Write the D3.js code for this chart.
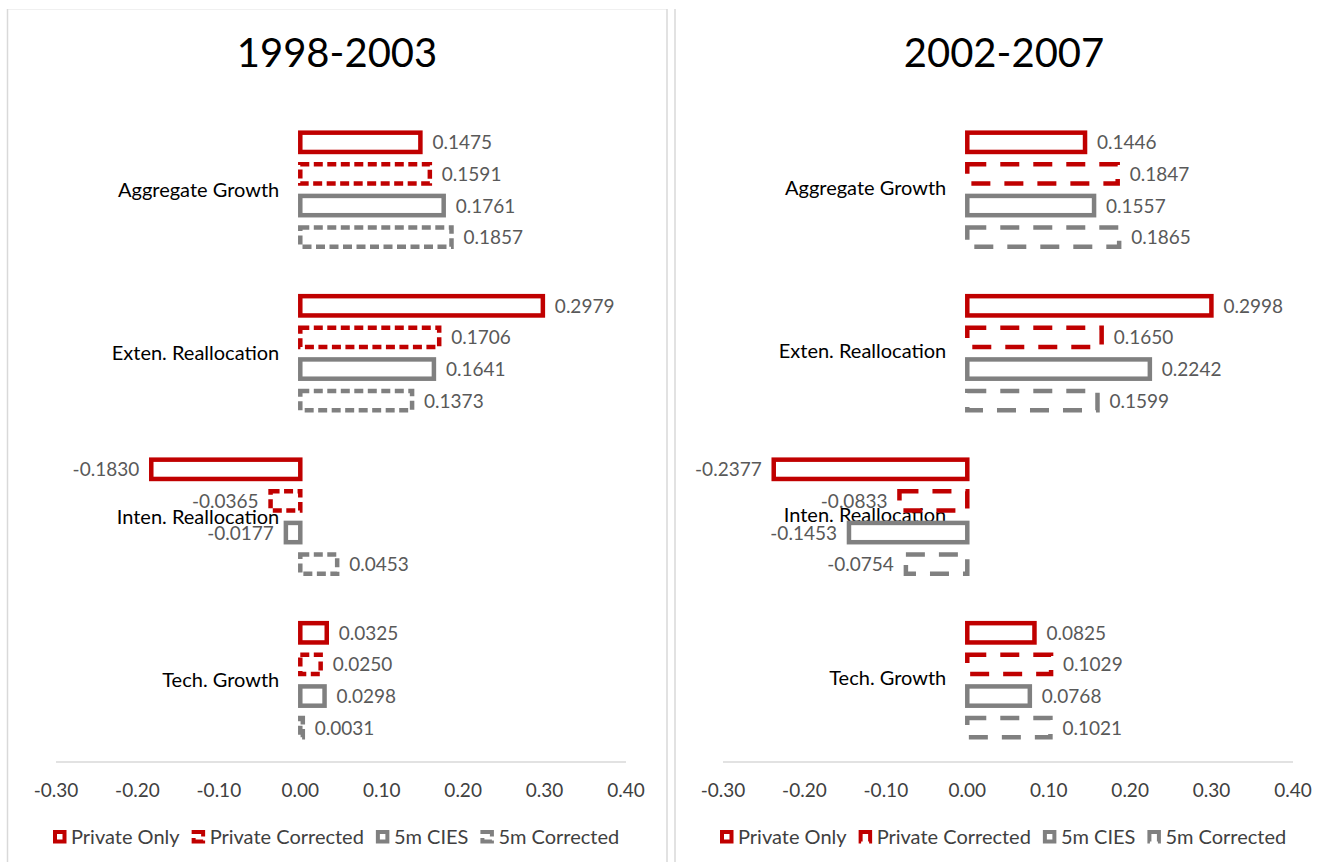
<!DOCTYPE html>
<html>
<head>
<meta charset="utf-8">
<script src="https://cdn.jsdelivr.net/npm/d3@7"></script>
<style>
  body { margin: 0; background: #fff; }
  svg text { font-family: Lato, "Open Sans", sans-serif; }
</style>
</head>
<body>
<svg id="chart" width="1326" height="862"></svg>
<script>
// categories and series
const categories = ['Aggregate Growth', 'Exten. Reallocation', 'Inten. Reallocation', 'Tech. Growth'];
const seriesNames = ['Private Only', 'Private Corrected', '5m CIES', '5m Corrected'];
const xTicks = [-0.3, -0.2, -0.1, 0, 0.1, 0.2, 0.3, 0.4];

// 1998-2003
const privateOnly9803 = [0.1475, 0.2979, -0.1830, 0.0325];
const privateCorr9803 = [0.1591, 0.1706, -0.0365, 0.0250];
const cies9803 = [0.1761, 0.1641, -0.0177, 0.0298];
const ciesCorr9803 = [0.1857, 0.1373, 0.0453, 0.0031];

// 2002-2007
const privateOnly0207 = [0.1446, 0.2998, -0.2377, 0.0825];
const privateCorr0207 = [0.1847, 0.1650, -0.0833, 0.1029];
const cies0207 = [0.1557, 0.2242, -0.1453, 0.0768];
const ciesCorr0207 = [0.1865, 0.1599, -0.0754, 0.1021];

const red = '#c00000', grey = '#808080';
// plain hyphen for negatives, like the excel labels
const loc = d3.formatLocale({ decimal: '.', thousands: ',', grouping: [3], currency: ['', ''], minus: '-' });
const fmtTick = loc.format('.2f'), fmtVal = loc.format('.4f');

const svg = d3.select('#chart');

// panel frames
svg.append('line').attr('x1', 7.5).attr('x2', 667).attr('y1', 9.5).attr('y2', 9.5).attr('stroke', '#f0f0f0');
svg.append('line').attr('x1', 7.5).attr('x2', 7.5).attr('y1', 9).attr('y2', 862).attr('stroke', '#d9d9d9').attr('stroke-width', 1.5);
svg.append('line').attr('x1', 667).attr('x2', 667).attr('y1', 9).attr('y2', 862).attr('stroke', '#d9d9d9').attr('stroke-width', 1.5);
svg.append('line').attr('x1', 675).attr('x2', 675).attr('y1', 9).attr('y2', 862).attr('stroke', '#d9d9d9').attr('stroke-width', 1.5);

function drawPanel(opt) {
  const g = svg.append('g');
  const series = opt.values.map((v, i) => ({
    name: seriesNames[i],
    vals: v,
    color: i < 2 ? red : grey,
    dash: i % 2 === 1 ? opt.dash : null
  }));

  const x = d3.scaleLinear().domain([-0.3, 0.4]).range(opt.xr);
  const y0 = d3.scaleBand().domain(categories).range([108, 762]);
  const y1 = d3.scaleBand().domain(seriesNames).range([0, y0.bandwidth()])
    .paddingInner(0.39).paddingOuter(0.78);

  g.append('text')
    .attr('x', opt.cx).attr('y', 67)
    .attr('text-anchor', 'middle')
    .attr('font-size', 40)
    .attr('fill', '#000')
    .text(opt.title);

  // axis line + tick labels
  g.append('line')
    .attr('x1', x(-0.3)).attr('x2', x(0.4))
    .attr('y1', 762).attr('y2', 762)
    .attr('stroke', '#d9d9d9').attr('stroke-width', 1.5);
  g.selectAll('.tick').data(xTicks).enter().append('text')
    .attr('x', d => x(d)).attr('y', 797)
    .attr('text-anchor', 'middle')
    .attr('font-size', 19).attr('fill', '#404040')
    .text(d => fmtTick(d));

  // category labels
  g.selectAll('.cat').data(categories).enter().append('text')
    .attr('x', x(0) - 21)
    .attr('y', d => y0(d) + y0.bandwidth() / 2 + opt.catDy)
    .attr('text-anchor', 'end')
    .attr('font-size', 20).attr('fill', '#000')
    .text(d => d);

  series.forEach(s => {
    const rows = categories.map((c, i) => ({ c: c, v: s.vals[i] }));
    g.selectAll(null).data(rows).enter().append('rect')
      .attr('x', d => x(Math.min(0, d.v)))
      .attr('y', d => y0(d.c) + y1(s.name))
      .attr('width', d => Math.abs(x(d.v) - x(0)))
      .attr('height', y1.bandwidth())
      .attr('fill', 'none')
      .attr('stroke', s.color)
      .attr('stroke-width', 4.5)
      .attr('stroke-dasharray', s.dash);

    g.selectAll(null).data(rows).enter().append('text')
      .attr('x', d => d.v >= 0 ? x(d.v) + 12 : x(d.v) - 12)
      .attr('y', d => y0(d.c) + y1(s.name) + y1.bandwidth() / 2 + 7)
      .attr('text-anchor', d => d.v >= 0 ? 'start' : 'end')
      .attr('font-size', 19).attr('fill', '#595959')
      .text(d => fmtVal(d.v));
  });

  // legend
  const lg = g.append('g');
  let lx = opt.legendX;
  series.forEach(s => {
    lg.append('rect')
      .attr('x', lx + 2).attr('y', 832).attr('width', 9.5).attr('height', 9.5)
      .attr('fill', '#fff').attr('stroke', s.color).attr('stroke-width', 4)
      .attr('stroke-dasharray', s.dash ? opt.legendDash : null);
    const t = lg.append('text')
      .attr('x', lx + 18).attr('y', 844)
      .attr('font-size', 20).attr('fill', '#404040')
      .text(s.name);
    lx += 18 + t.node().getComputedTextLength() + 12;
  });
}

drawPanel({
  title: '1998-2003', cx: 337, xr: [56, 626],
  values: [privateOnly9803, privateCorr9803, cies9803, ciesCorr9803],
  dash: '9,4.5', legendDash: '14,4', catDy: 7, legendX: 53
});
drawPanel({
  title: '2002-2007', cx: 1004, xr: [723, 1293],
  values: [privateOnly0207, privateCorr0207, cies0207, ciesCorr0207],
  dash: '19,14', legendDash: '20,8', catDy: 5, legendX: 720
});
</script>
</body>
</html>
